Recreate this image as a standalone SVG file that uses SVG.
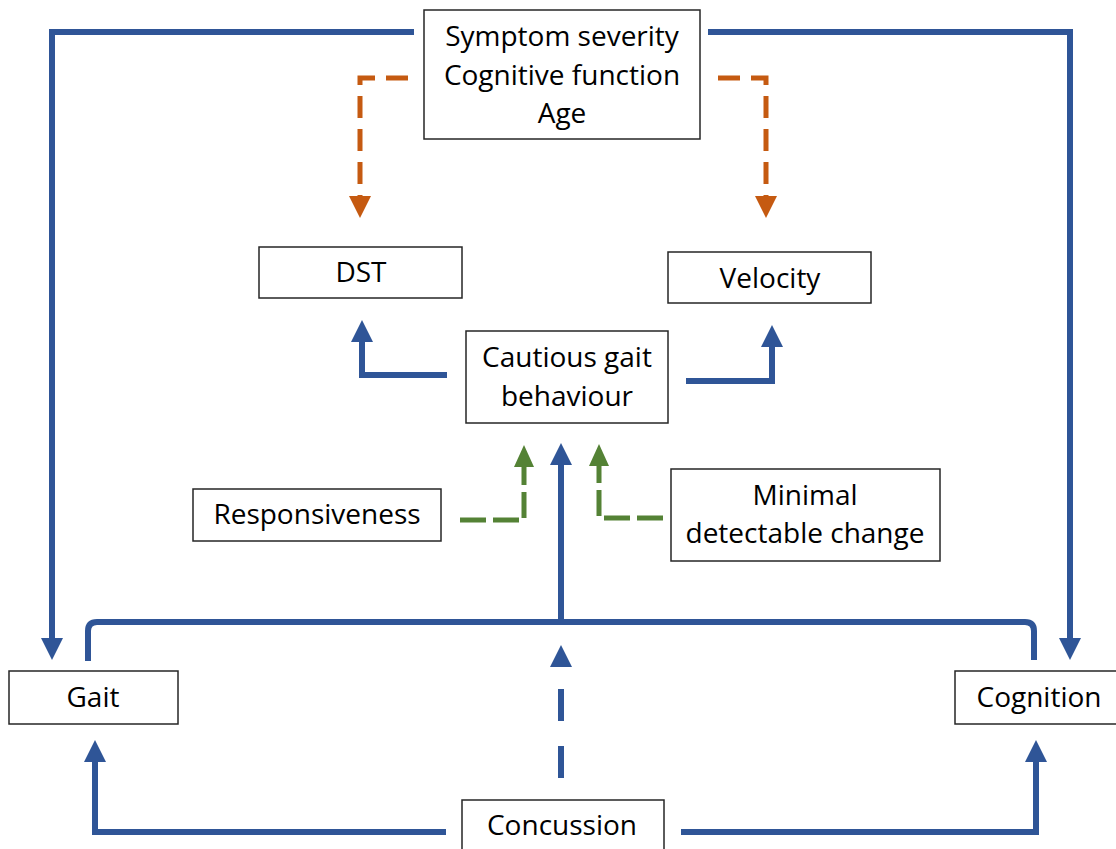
<svg xmlns="http://www.w3.org/2000/svg" width="1116" height="849" viewBox="0 0 1116 849">
<style>
.box{fill:#fff;stroke:#262626;stroke-width:1.5}
.t{font-family:"Open Sans","Liberation Sans",sans-serif;font-size:28px;fill:#000;text-anchor:middle}
.blue{fill:none;stroke:#2F5597;stroke-width:6}
.orange{fill:none;stroke:#C55A11;stroke-width:5;stroke-dasharray:22 11}
.green{fill:none;stroke:#548235;stroke-width:5;stroke-dasharray:26 7}
.bdash{fill:none;stroke:#2F5597;stroke-width:6;stroke-dasharray:32 25}
</style>
<defs>
<marker id="ab" viewBox="0 0 22 22" markerWidth="22" markerHeight="22" refX="0" refY="11" orient="auto" markerUnits="userSpaceOnUse"><path d="M0,0 L22,11 L0,22 z" fill="#2F5597"/></marker>
<marker id="ao" viewBox="0 0 22 22" markerWidth="22" markerHeight="22" refX="0" refY="11" orient="auto" markerUnits="userSpaceOnUse"><path d="M0,0 L22,11 L0,22 z" fill="#C55A11"/></marker>
<marker id="ag" viewBox="0 0 22 20" markerWidth="22" markerHeight="20" refX="0" refY="10" orient="auto" markerUnits="userSpaceOnUse"><path d="M0,0 L22,10 L0,20 z" fill="#548235"/></marker>
</defs>
<g id="connectors">
<path class="blue" d="M414,32 H52 V638" marker-end="url(#ab)"/>
<path class="blue" d="M708,32 H1070 V638" marker-end="url(#ab)"/>
<path class="orange" d="M408,78 H360 V196" marker-end="url(#ao)"/>
<path class="orange" d="M718,78 H766 V196" marker-end="url(#ao)"/>
<path class="blue" d="M447,375 H362 V342" marker-end="url(#ab)"/>
<path class="blue" d="M686,381 H772 V347" marker-end="url(#ab)"/>
<path class="green" d="M460,520 H524 V467" marker-end="url(#ag)"/>
<path class="green" d="M663,518 H599 V466" marker-end="url(#ag)"/>
<path class="blue" d="M88,661 V631 Q88,622 97,622 H1025 Q1034,622 1034,631 V660"/>
<path class="blue" d="M561,622 V465" marker-end="url(#ab)"/>
<path class="bdash" d="M561,778 V667" marker-end="url(#ab)"/>
<path class="blue" d="M446,832 H95 V762" marker-end="url(#ab)"/>
<path class="blue" d="M681,832 H1036 V762" marker-end="url(#ab)"/>
</g>
<g id="confounders">
<rect class="box" x="424" y="10" width="276" height="129"/>
<text class="t" x="562" y="46">Symptom severity</text>
<text class="t" x="562" y="85">Cognitive function</text>
<text class="t" x="562" y="123">Age</text>
</g>
<g id="dst">
<rect class="box" x="259" y="247" width="203" height="51"/>
<text class="t" x="361" y="282">DST</text>
</g>
<g id="velocity">
<rect class="box" x="668" y="252" width="203" height="51"/>
<text class="t" x="770" y="288">Velocity</text>
</g>
<g id="cautious">
<rect class="box" x="466" y="331" width="202" height="92"/>
<text class="t" x="567" y="367">Cautious gait</text>
<text class="t" x="567" y="406">behaviour</text>
</g>
<g id="responsiveness">
<rect class="box" x="193" y="489" width="248" height="52"/>
<text class="t" x="317" y="524">Responsiveness</text>
</g>
<g id="mdc">
<rect class="box" x="671" y="469" width="269" height="92"/>
<text class="t" x="805" y="505">Minimal</text>
<text class="t" x="805" y="543">detectable change</text>
</g>
<g id="gait">
<rect class="box" x="9" y="671" width="169" height="53"/>
<text class="t" x="93" y="707">Gait</text>
</g>
<g id="cognition">
<rect class="box" x="955" y="671" width="165" height="53"/>
<text class="t" x="1039" y="707">Cognition</text>
</g>
<g id="concussion">
<rect class="box" x="462" y="800" width="202" height="60"/>
<text class="t" x="562" y="835">Concussion</text>
</g>
</svg>
